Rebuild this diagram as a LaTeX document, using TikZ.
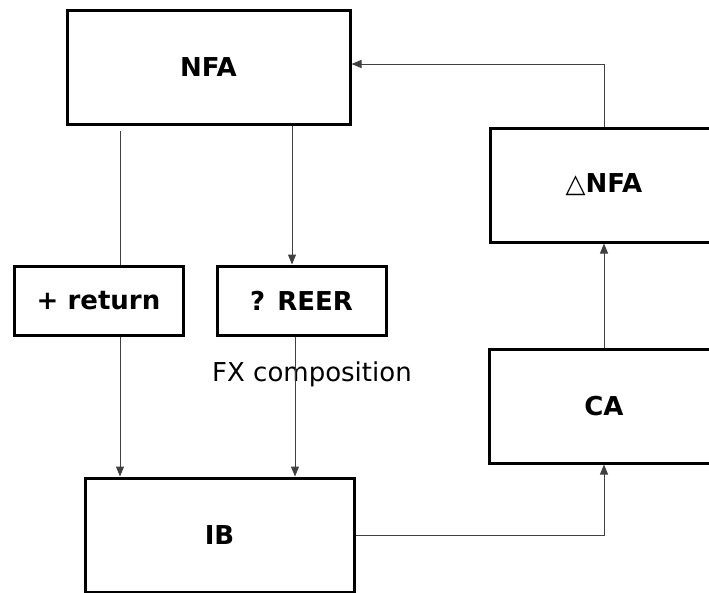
\documentclass[tikz,border=0pt]{standalone}
\usepackage{fontspec}
\setmainfont{DejaVu Sans}
\usetikzlibrary{arrows.meta}

\tikzset{
  box/.style={draw, line width=3pt, inner sep=0pt, font=\bfseries\fontsize{26}{30}\selectfont},
  link/.style={line width=1pt, black!75},
  arr/.style={link, -{Triangle[length=10pt,width=8pt]}}
}

\begin{document}
\begin{tikzpicture}[x=1pt,y=-1pt]
\useasboundingbox (0,0) rectangle (709,592);
\node[box, minimum width=283pt, minimum height=114pt] (nfa) at (208.5,67){NFA};
\node[box, minimum width=228pt, minimum height=114pt] (dnfa) at (604,185){{\mdseries △}NFA};
\node[box, minimum width=230pt, minimum height=114pt] (ca) at (604,406){CA};
\node[box, minimum width=169pt, minimum height=69pt] (ret) at (98.5,300.5){+ return};
\node[box, minimum width=169pt, minimum height=69pt] (reer) at (301.5,300.5){? REER};
\node[box, minimum width=269pt, minimum height=114pt] (ib) at (219.5,535){IB};
\node[font=\fontsize{26}{30}\selectfont] (fx) at (312,374){FX composition};
% columns of the vertical links
\coordinate (colA) at (120,0);
\coordinate (colB) at (292,0);
\coordinate (colC) at (295,0);
\draw[link, shorten <=5.5pt] (nfa.south -| colA) -- (ret.north -| colA);
\draw[arr] (nfa.south -| colB) -- (reer.north -| colB);
\draw[arr] (ret.south -| colA) -- (ib.north -| colA);
\draw[arr] (reer.south -| colC) -- (ib.north -| colC);
\draw[arr] (ib.east) -| (ca.south);
\draw[arr] (ca.north) -- (dnfa.south);
\draw[arr] (dnfa.north) |- ([yshift=3pt]nfa.east);
\end{tikzpicture}
\end{document}
